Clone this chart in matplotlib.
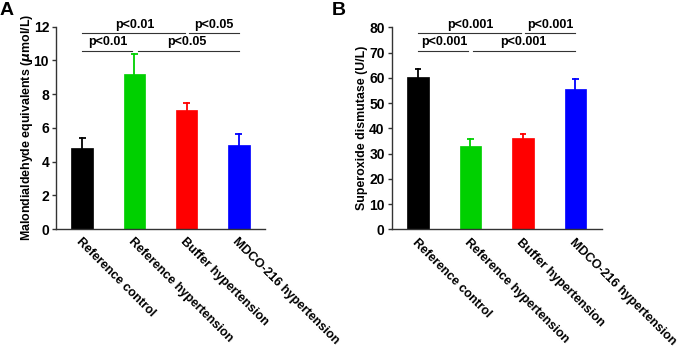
import matplotlib
matplotlib.use('Agg')
import matplotlib.pyplot as plt
import numpy as np

plt.rcParams['font.family'] = ['Liberation Sans', 'DejaVu Sans']
plt.rcParams['font.weight'] = 'bold'

# data
groups = ['Reference control', 'Reference hypertension',
          'Buffer hypertension', 'MDCO-216 hypertension']
colors = ['#000000', '#00d000', '#ff0000', '#0000ff']

mda_mean = [4.82, 9.19, 7.06, 4.96]
mda_err = [0.56, 1.19, 0.43, 0.65]

sod_mean = [60.4, 33.1, 36.3, 55.4]
sod_err = [3.0, 2.7, 1.3, 4.2]

# significance brackets: (x0, x1, level, label)
mda_sig = [(0, 1.96, 'top', 'p<0.01'), (2.04, 3, 'top', 'p<0.05'),
           (0, 0.96, 'low', 'p<0.01'), (1.06, 3, 'low', 'p<0.05')]
sod_sig = [(0, 1.96, 'top', 'p<0.001'), (2.03, 3, 'top', 'p<0.001'),
           (0, 0.96, 'low', 'p<0.001'), (1.04, 3, 'low', 'p<0.001')]
label_x = {'top': [1.0, 2.52], 'low': [0.5, 2.0]}


def draw_panel(ax, means, errs, ymax, yticks, ylabel, sig, y_top, y_low, lpad):
    x = np.arange(len(means))
    for i in range(len(means)):
        ax.bar(x[i], means[i], width=0.41, color=colors[i], edgecolor=colors[i],
               linewidth=0.5, zorder=2)
        # upper error bar only, cap at the top
        top = means[i] + errs[i]
        ax.plot([x[i], x[i]], [means[i], top], color=colors[i], lw=1.3, zorder=3)
        ax.plot([x[i] - 0.065, x[i] + 0.065], [top, top], color=colors[i],
                lw=1.3, zorder=3, solid_capstyle='butt')
    ax.set_xlim(-0.5, 3.5)
    ax.set_ylim(0, ymax)
    ax.set_yticks(yticks)
    ax.spines['top'].set_visible(False)
    ax.spines['right'].set_visible(False)
    for s in ['left', 'bottom']:
        ax.spines[s].set_color('#333333')
        ax.spines[s].set_linewidth(1.0)
    ax.tick_params(axis='y', length=3, width=1, color='#333333', labelsize=10, pad=2)
    ax.set_xticks(x)
    ax.set_xticklabels(groups, rotation=-45, ha='left', va='top',
                       rotation_mode='anchor', fontsize=9, fontweight='bold')
    ax.tick_params(axis='x', length=0, pad=5)
    ax.set_ylabel(ylabel, fontsize=8.9, fontweight='bold', labelpad=lpad)
    counts = {'top': 0, 'low': 0}
    for x0, x1, lvl, lab in sig:
        yy = y_top if lvl == 'top' else y_low
        ax.plot([x0, x1], [yy, yy], color='#333333', lw=0.8, clip_on=False)
        tx = label_x[lvl][counts[lvl]]
        counts[lvl] += 1
        ax.text(tx, yy + ymax * 0.014, lab, ha='center', va='bottom',
                fontsize=9, fontweight='bold', clip_on=False)


fig = plt.figure(figsize=(6.85, 3.49), dpi=100)
axA = fig.add_axes([0.0818, 0.3438, 0.305, 0.5797])
axB = fig.add_axes([0.5718, 0.343, 0.3066, 0.5788])

draw_panel(axA, mda_mean, mda_err, 12, np.arange(0, 13, 2),
           r'Malondialdehyde equivalents ($\mathit{\mu}$mol/L)', mda_sig, 11.6, 10.58, -1)
draw_panel(axB, sod_mean, sod_err, 80, np.arange(0, 81, 10),
           'Superoxide dismutase (U/L)', sod_sig, 77.6, 70.7, 1)

fig.text(0.0, 0.995, 'A', fontsize=14, fontweight='bold', va='top')
fig.text(0.484, 0.995, 'B', fontsize=14, fontweight='bold', va='top')

fig.savefig('out.png', dpi=100)
